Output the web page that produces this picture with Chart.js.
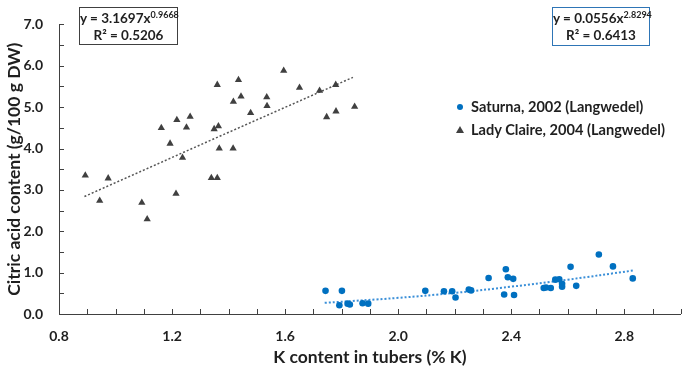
<!DOCTYPE html>
<html>
<head>
<meta charset="utf-8">
<script src="https://cdn.jsdelivr.net/npm/chart.js@4.4.1/dist/chart.umd.min.js"></script>
<style>
  html, body { margin: 0; padding: 0; background: #fff; }
  #wrap { position: relative; width: 685px; height: 370px; font-family: Lato, "Open Sans", sans-serif; color: #1f1f1f; }
  #chart { position: absolute; left: 0; top: 0; }
  .eq { position: absolute; background: #fff; text-align: center; font-weight: bold; font-size: 13.5px; line-height: 17px; box-sizing: border-box; padding-top: 2px; white-space: nowrap; }
  .eq sup { font-size: 9px; line-height: 0; vertical-align: 5px; }
  #eqLady { left: 79px; top: 7px; width: 99px; height: 38px; border: 1px solid #404040; }
  #eqSat { left: 552px; top: 7px; width: 98px; height: 39px; border: 1.5px solid #2e75b6; }
  .leg { position: absolute; left: 455px; height: 18px; line-height: 18px; font-weight: bold; font-size: 14.6px; white-space: nowrap; }
  .leg .mk { position: absolute; left: 0; top: 6px; }
  .leg .txt { position: absolute; left: 16px; top: 0; }
</style>
</head>
<body>
<div id="wrap">
  <canvas id="chart" width="685" height="370"></canvas>
  <div class="eq" id="eqLady">y = 3.1697x<sup>0.9668</sup><br>R² = 0.5206</div>
  <div class="eq" id="eqSat">y = 0.0556x<sup>2.8294</sup><br>R² = 0.6413</div>
  <div id="legend"></div>
</div>
<script>
// K content (% K) and citric acid (g/100 g DW)
const saturnaK = [1.743, 1.801, 1.792, 1.821, 1.829, 1.874, 1.894, 2.096, 2.162, 2.191, 2.203, 2.250, 2.258, 2.320, 2.381, 2.388, 2.407, 2.375, 2.410, 2.515, 2.523, 2.540, 2.556, 2.570, 2.580, 2.580, 2.610, 2.630, 2.710, 2.760, 2.830];
const saturnaCitric = [0.56, 0.56, 0.21, 0.25, 0.23, 0.26, 0.25, 0.56, 0.55, 0.55, 0.40, 0.59, 0.57, 0.87, 1.08, 0.89, 0.85, 0.47, 0.46, 0.63, 0.64, 0.63, 0.83, 0.84, 0.73, 0.66, 1.14, 0.68, 1.44, 1.15, 0.86];

const ladyK = [0.893, 0.974, 0.944, 1.093, 1.112, 1.162, 1.193, 1.214, 1.217, 1.237, 1.251, 1.264, 1.339, 1.349, 1.360, 1.360, 1.364, 1.367, 1.416, 1.417, 1.435, 1.444, 1.478, 1.535, 1.536, 1.595, 1.651, 1.722, 1.747, 1.779, 1.780, 1.846];
const ladyCitric = [3.35, 3.28, 2.74, 2.69, 2.29, 4.50, 4.12, 2.91, 4.69, 3.78, 4.51, 4.77, 3.29, 4.47, 5.54, 3.29, 4.54, 4.00, 4.00, 5.13, 5.66, 5.26, 4.86, 5.24, 5.03, 5.88, 5.47, 5.40, 4.76, 5.54, 4.90, 5.01];

// dotted power trendlines
const saturnaTrendK = [1.74, 2.00, 2.20, 2.40, 2.60, 2.83];
const saturnaTrendCitric = [0.27, 0.39, 0.51, 0.66, 0.83, 1.05];
const ladyTrendK = [0.89, 1.35, 1.84];
const ladyTrendCitric = [2.84, 4.24, 5.72];

const xTickLabels = ["0.8", "1.2", "1.6", "2.0", "2.4", "2.8"];
const yTickLabels = ["0.0", "1.0", "2.0", "3.0", "4.0", "5.0", "6.0", "7.0"];

const blue = "#0070C0";
const grey = "#404040";
const textCol = "#1f1f1f";
const axisFont = { family: "Lato, 'Open Sans', sans-serif", size: 14, weight: "bold" };
const titleFont = { family: "Lato, 'Open Sans', sans-serif", size: 17.5, weight: "bold" };

const pts = (xs, ys) => xs.map((x, i) => ({ x: x, y: ys[i] }));

// small inside tick marks like the excel axes
const minorTicks = {
    id: "minorTicks",
    afterDraw(chart) {
        const c = chart.ctx;
        const xs = chart.scales.x, ys = chart.scales.y;
        c.save();
        c.strokeStyle = grey;
        c.lineWidth = 1;
        c.beginPath();
        for (let i = 0; i <= Math.round((xs.max - xs.min) / 0.1); i++) {
            const px = Math.round(xs.getPixelForValue(xs.min + i * 0.1)) + 0.5;
            c.moveTo(px, ys.bottom);
            c.lineTo(px, ys.bottom - 5);
        }
        for (let i = 0; i <= Math.round((ys.max - ys.min) / 0.5); i++) {
            const py = Math.round(ys.getPixelForValue(ys.min + i * 0.5)) + 0.5;
            c.moveTo(xs.left, py);
            c.lineTo(xs.left + 5, py);
        }
        c.stroke();
        c.restore();
    }
};

const chart = new Chart(document.getElementById("chart"), {
    type: "scatter",
    data: {
        datasets: [
            {
                label: "Saturna, 2002 (Langwedel)",
                data: pts(saturnaK, saturnaCitric),
                pointStyle: "circle",
                pointRadius: 3.3,
                backgroundColor: blue,
                borderColor: blue,
                borderWidth: 0,
                order: 1
            },
            {
                label: "Lady Claire, 2004 (Langwedel)",
                data: pts(ladyK, ladyCitric),
                pointStyle: "triangle",
                pointRadius: 4.2,
                backgroundColor: grey,
                borderColor: grey,
                borderWidth: 0,
                order: 1
            },
            {
                label: "Saturna trend",
                data: pts(saturnaTrendK, saturnaTrendCitric),
                showLine: true,
                pointRadius: 0,
                borderColor: "#3a8fd8",
                borderWidth: 2,
                borderDash: [2, 2],
                tension: 0.4,
                order: 2
            },
            {
                label: "Lady Claire trend",
                data: pts(ladyTrendK, ladyTrendCitric),
                showLine: true,
                pointRadius: 0,
                borderColor: "#555",
                borderWidth: 1.5,
                borderDash: [2, 2],
                order: 2
            }
        ]
    },
    options: {
        responsive: false,
        animation: false,
        devicePixelRatio: 1,
        layout: { padding: { top: 7, right: 2, left: 0, bottom: 0 } },
        plugins: {
            legend: { display: false },
            tooltip: { enabled: false }
        },
        scales: {
            x: {
                type: "linear",
                min: 0.8,
                max: 3.0,
                afterBuildTicks: s => { s.ticks = xTickLabels.map(t => ({ value: parseFloat(t) })); },
                afterFit: s => { s.height = 56; },
                ticks: {
                    autoSkip: false,
                    maxRotation: 0,
                    padding: 14,
                    color: textCol,
                    font: axisFont,
                    callback: (v, i) => xTickLabels[i]
                },
                grid: { display: false, drawTicks: false },
                border: { display: true, color: grey, width: 1 },
                title: {
                    display: true,
                    text: "K content in tubers (% K)",
                    color: textCol,
                    font: titleFont,
                    padding: { top: 0, bottom: 2 }
                }
            },
            y: {
                type: "linear",
                min: 0,
                max: 7,
                afterBuildTicks: s => { s.ticks = yTickLabels.map(t => ({ value: parseFloat(t) })); },
                afterFit: s => { s.width = 59; },
                ticks: {
                    autoSkip: false,
                    padding: 16,
                    color: textCol,
                    font: axisFont,
                    callback: (v, i) => yTickLabels[i]
                },
                grid: { display: false, drawTicks: false },
                border: { display: true, color: grey, width: 1 },
                title: {
                    display: true,
                    text: "Citric acid content (g/100 g DW)",
                    color: textCol,
                    font: titleFont,
                    padding: { top: 4, bottom: 0 }
                }
            }
        }
    },
    plugins: [minorTicks]
});

// legend inside the plot, only the two sample series
const legend = document.getElementById("legend");
chart.data.datasets.slice(0, 2).forEach((ds, i) => {
    const row = document.createElement("div");
    row.className = "leg";
    row.style.top = (98 + i * 23) + "px";
    const mk = document.createElement("span");
    mk.className = "mk";
    if (ds.pointStyle === "circle") {
        mk.style.cssText = "width:6px;height:6px;border-radius:50%;background:" + ds.backgroundColor + ";left:2px;top:6px;";
    } else {
        mk.style.cssText = "width:0;height:0;border-left:4px solid transparent;border-right:4px solid transparent;border-bottom:7px solid " + ds.backgroundColor + ";left:1px;top:5px;";
    }
    const txt = document.createElement("span");
    txt.className = "txt";
    txt.textContent = ds.label;
    row.appendChild(mk);
    row.appendChild(txt);
    legend.appendChild(row);
});
</script>
</body>
</html>
